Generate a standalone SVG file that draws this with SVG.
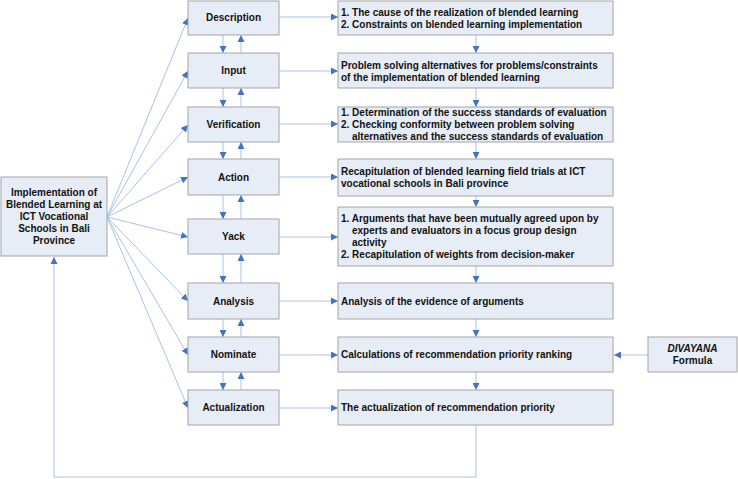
<svg xmlns="http://www.w3.org/2000/svg" width="738" height="479" viewBox="0 0 738 479">
<defs>
<marker id="ah" viewBox="0 0 10 10" refX="10" refY="5" markerWidth="7" markerHeight="7" markerUnits="userSpaceOnUse" orient="auto">
<path d="M0,0 L10,5 L0,10 z" fill="#4472C4"/>
</marker>
<style>
.box{fill:#E7EDF7;stroke:#A3A3A3;stroke-width:1}
.t{font-family:"Liberation Sans",Arial,sans-serif;font-size:10px;font-weight:bold;fill:#111}
.c{text-anchor:middle}
.ln{fill:none;stroke:#A8C2E8;stroke-width:1;marker-end:url(#ah)}
</style>
</defs>
<rect width="738" height="479" fill="#fff"/>
<g id="connectors">
<line class="ln" x1="107" y1="217" x2="188" y2="18"/>
<line class="ln" x1="107" y1="217" x2="188" y2="71"/>
<line class="ln" x1="107" y1="217" x2="188" y2="125"/>
<line class="ln" x1="107" y1="217" x2="188" y2="177"/>
<line class="ln" x1="107" y1="217" x2="188" y2="237"/>
<line class="ln" x1="107" y1="217" x2="188" y2="301"/>
<line class="ln" x1="107" y1="217" x2="188" y2="355"/>
<line class="ln" x1="107" y1="217" x2="188" y2="408"/>
<line class="ln" x1="223" y1="35" x2="223" y2="53"/>
<line class="ln" x1="241" y1="53" x2="241" y2="35"/>
<line class="ln" x1="223" y1="88" x2="223" y2="107"/>
<line class="ln" x1="241" y1="107" x2="241" y2="88"/>
<line class="ln" x1="223" y1="142" x2="223" y2="159"/>
<line class="ln" x1="241" y1="159" x2="241" y2="142"/>
<line class="ln" x1="223" y1="195" x2="223" y2="219"/>
<line class="ln" x1="241" y1="219" x2="241" y2="195"/>
<line class="ln" x1="223" y1="254" x2="223" y2="283"/>
<line class="ln" x1="241" y1="283" x2="241" y2="254"/>
<line class="ln" x1="223" y1="319" x2="223" y2="337"/>
<line class="ln" x1="241" y1="337" x2="241" y2="319"/>
<line class="ln" x1="223" y1="372" x2="223" y2="390"/>
<line class="ln" x1="241" y1="390" x2="241" y2="372"/>
<line class="ln" x1="279" y1="17" x2="338" y2="17"/>
<line class="ln" x1="279" y1="71" x2="338" y2="71"/>
<line class="ln" x1="279" y1="124" x2="338" y2="124"/>
<line class="ln" x1="279" y1="177" x2="338" y2="177"/>
<line class="ln" x1="279" y1="237" x2="338" y2="237"/>
<line class="ln" x1="279" y1="301" x2="338" y2="301"/>
<line class="ln" x1="279" y1="355" x2="338" y2="355"/>
<line class="ln" x1="279" y1="408" x2="338" y2="408"/>
<line class="ln" x1="476" y1="35" x2="476" y2="53"/>
<line class="ln" x1="476" y1="88" x2="476" y2="107"/>
<line class="ln" x1="476" y1="142" x2="476" y2="159"/>
<line class="ln" x1="476" y1="196" x2="476" y2="207"/>
<line class="ln" x1="476" y1="266" x2="476" y2="283"/>
<line class="ln" x1="476" y1="319" x2="476" y2="337"/>
<line class="ln" x1="476" y1="372" x2="476" y2="390"/>
<line class="ln" x1="648" y1="355" x2="614" y2="355"/>
<path class="ln" d="M476,425 V477 H54 V257"/>
</g>
<g id="implementation">
<rect class="box" x="1" y="177" width="106" height="79"/>
<text class="t c" x="54" y="196">Implementation of</text>
<text class="t c" x="54" y="208">Blended Learning at</text>
<text class="t c" x="54" y="220">ICT Vocational</text>
<text class="t c" x="54" y="232">Schools in Bali</text>
<text class="t c" x="54" y="244">Province</text>
</g>
<g id="description"><rect class="box" x="188" y="1" width="91" height="34"/><text class="t c" x="233.5" y="21">Description</text></g>
<g id="input"><rect class="box" x="188" y="53" width="91" height="35"/><text class="t c" x="233.5" y="74">Input</text></g>
<g id="verification"><rect class="box" x="188" y="107" width="91" height="35"/><text class="t c" x="233.5" y="128">Verification</text></g>
<g id="action"><rect class="box" x="188" y="159" width="91" height="36"/><text class="t c" x="233.5" y="181">Action</text></g>
<g id="yack"><rect class="box" x="188" y="219" width="91" height="35"/><text class="t c" x="233.5" y="240">Yack</text></g>
<g id="analysis"><rect class="box" x="188" y="283" width="91" height="36"/><text class="t c" x="233.5" y="305">Analysis</text></g>
<g id="nominate"><rect class="box" x="188" y="337" width="91" height="35"/><text class="t c" x="233.5" y="358">Nominate</text></g>
<g id="actualization"><rect class="box" x="188" y="390" width="91" height="35"/><text class="t c" x="233.5" y="411">Actualization</text></g>
<g id="r-description"><rect class="box" x="338" y="1" width="275" height="34"/>
<text class="t" x="341" y="16">1. The cause of the realization of blended learning</text>
<text class="t" x="341" y="28">2. Constraints on blended learning implementation</text></g>
<g id="r-input"><rect class="box" x="338" y="53" width="275" height="35"/>
<text class="t" x="341" y="69">Problem solving alternatives for problems/constraints</text>
<text class="t" x="341" y="81">of the implementation of blended learning</text></g>
<g id="r-verification"><rect class="box" x="338" y="107" width="275" height="35"/>
<text class="t" x="341" y="116">1. Determination of the success standards of evaluation</text>
<text class="t" x="341" y="128">2. Checking conformity between problem solving</text>
<text class="t" x="352" y="140">alternatives and the success standards of evaluation</text></g>
<g id="r-action"><rect class="box" x="338" y="159" width="275" height="37"/>
<text class="t" x="341" y="175">Recapitulation of blended learning field trials at ICT</text>
<text class="t" x="341" y="187">vocational schools in Bali province</text></g>
<g id="r-yack"><rect class="box" x="338" y="207" width="275" height="59"/>
<text class="t" x="341" y="222">1. Arguments that have been mutually agreed upon by</text>
<text class="t" x="352" y="234">experts and evaluators in a focus group design</text>
<text class="t" x="352" y="246">activity</text>
<text class="t" x="341" y="258">2. Recapitulation of weights from decision-maker</text></g>
<g id="r-analysis"><rect class="box" x="338" y="283" width="275" height="36"/>
<text class="t" x="341" y="305">Analysis of the evidence of arguments</text></g>
<g id="r-nominate"><rect class="box" x="338" y="337" width="275" height="35"/>
<text class="t" x="341" y="358">Calculations of recommendation priority ranking</text></g>
<g id="r-actualization"><rect class="box" x="338" y="390" width="275" height="35"/>
<text class="t" x="341" y="411">The actualization of recommendation priority</text></g>
<g id="divayana"><rect class="box" x="648" y="337" width="89" height="35"/>
<text class="t c" x="692.5" y="352" font-style="italic">DIVAYANA</text>
<text class="t c" x="692.5" y="364">Formula</text></g>
</svg>
